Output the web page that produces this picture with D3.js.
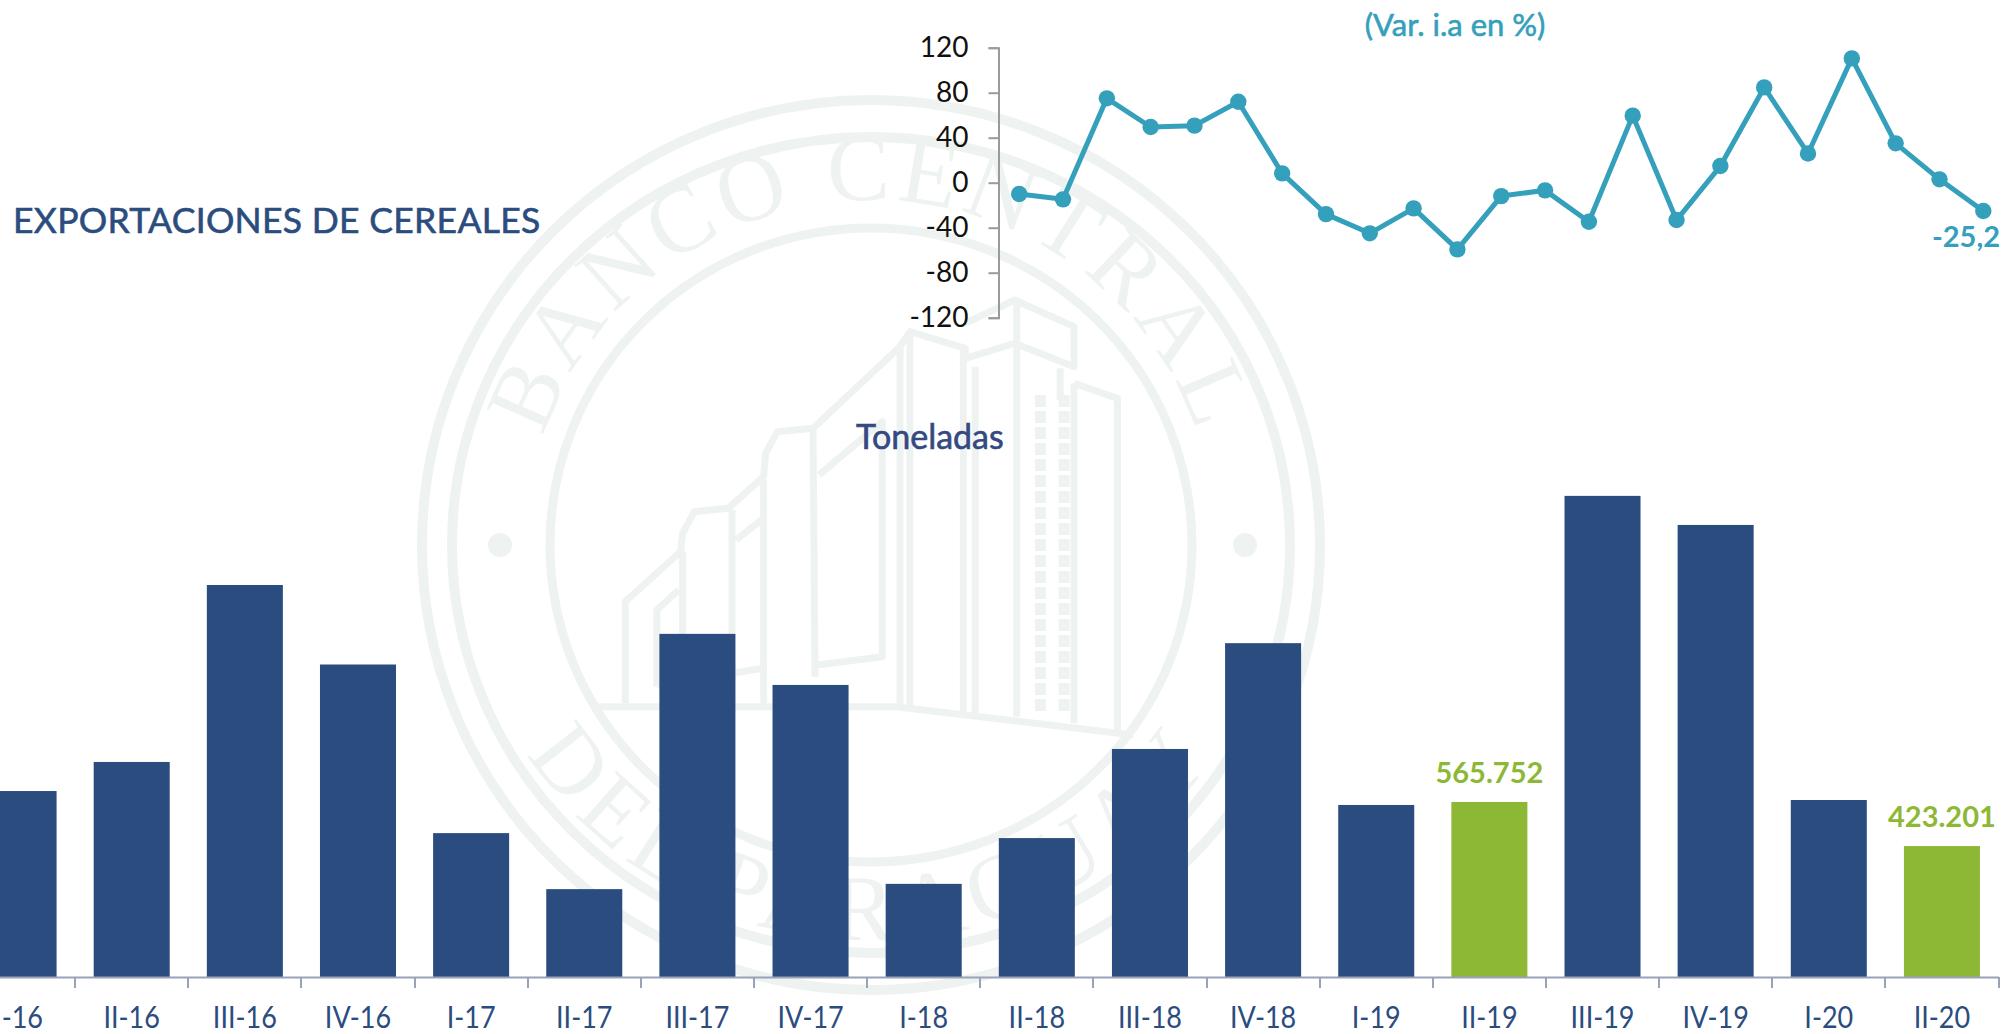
<!DOCTYPE html>
<html lang="es">
<head>
<meta charset="utf-8">
<title>Exportaciones de cereales</title>
<script src="https://cdn.jsdelivr.net/npm/d3@7/dist/d3.min.js"></script>
<style>
html,body{margin:0;padding:0;background:#fff;overflow:hidden}
svg{display:block}
text{font-family:Lato,"Open Sans",sans-serif}
</style>
</head>
<body>
<svg id="chart" width="2004" height="1034" viewBox="0 0 2004 1034"></svg>
<script>
// ---- data ----
const quarters = ["I-16","II-16","III-16","IV-16","I-17","II-17","III-17","IV-17","I-18","II-18","III-18","IV-18","I-19","II-19","III-19","IV-19","I-20","II-20"];
const tons = [601000,695000,1267000,1010000,465000,284000,1109000,944000,301000,449000,737000,1079000,556000,565752,1555000,1461000,572000,423201];
const highlighted = ["II-19","II-20"];
const variation = [-10,-14.8,75,49.5,50.7,72,8.3,-27.9,-45,-22.8,-59.3,-11.9,-6.8,-34.7,59.6,-33.2,14.8,84.7,26,110.5,35,3,-25.2];
const varTicks = [120,80,40,0,-40,-80,-120];
const varLast = "-25,2";
const titleText = "EXPORTACIONES DE CEREALES";
const unitText = "Toneladas";
const varText = "(Var. i.a en %)";

// ---- colours ----
const NAVY="#2b4c7e", GREEN="#8db836", TEAL="#35a0bb", AXIS="#98a2b8", GREY="#9a9a9a", PALE="#eef3f1";

const svg = d3.select("#chart");

// ---- background seal (decoration) ----
const seal = svg.append("g").attr("class","seal");
const cx=871, cy=545;
[[449,445,10],[419,408,10],[321,317,9]].forEach(([rx,ry,w])=>{
  seal.append("ellipse").attr("cx",cx).attr("cy",cy).attr("rx",rx).attr("ry",ry)
    .attr("fill","none").attr("stroke",PALE).attr("stroke-width",w);
});
[500,1245].forEach(x=>seal.append("circle").attr("cx",x).attr("cy",545).attr("r",12).attr("fill",PALE));
const defs = svg.append("defs");
defs.append("path").attr("id","arcTop").attr("d",`M${cx-345},${cy} A345,345 0 0 1 ${cx+345},${cy}`);
defs.append("path").attr("id","arcBot").attr("d",`M${cx-405},${cy} A405,395 0 0 0 ${cx+405},${cy}`);
const sealText=(id,t,ls)=>seal.append("text").attr("font-size",94).attr("fill",PALE)
   .style("font-family","'Liberation Serif',serif").attr("letter-spacing",ls).attr("text-anchor","middle")
   .append("textPath").attr("href","#"+id).attr("startOffset","50%").text(t);
sealText("arcTop","BANCO CENTRAL",6);
sealText("arcBot","DEL PARAGUAY",9);
// building outline, sketched in a local 1568x1380 frame
const bx=d3.scaleLinear().domain([0,1568]).range([560,1180]);
const by=d3.scaleLinear().domain([0,1380]).range([280,740]);
const strokes=[
 [[165,1270],[165,965],[305,815],[310,760],[340,695],[425,685],[515,590],[520,520],[550,455],[640,445],[860,200],[885,155],[1025,205],[1025,235],[1150,190],[1300,260],[1300,140],[1150,60],[1025,130]],
 [[245,1220],[245,990],[300,930]],[[310,815],[310,1275]],[[435,690],[435,1280]],[[445,780],[515,715]],[[515,600],[515,1280]],
 [[245,1215],[515,1165]],[[640,445],[645,1190]],[[655,585],[815,425],[815,1130],[650,1155]],
 [[860,200],[860,1285]],[[885,155],[885,1285]],[[1020,205],[1020,1300]],[[1050,260],[1050,1300]],[[1155,60],[1155,1310]],
 [[1265,265],[1265,360]],[[1300,310],[1410,355],[1410,1350]],[[1300,310],[1300,1330]],
 [[80,1280],[850,1280],[1450,1365]]
];
const sketch=d3.line().x(p=>bx(p[0])).y(p=>by(p[1]));
strokes.forEach(s=>seal.append("path").attr("d",sketch(s)).attr("fill","none").attr("stroke",PALE).attr("stroke-width",7).attr("stroke-linejoin","round"));
[1215,1275].forEach(X=>seal.append("path").attr("d",sketch([[X,345],[X,1300]])).attr("fill","none").attr("stroke",PALE).attr("stroke-width",11).attr("stroke-dasharray","12 4"));

// ---- bar chart ----
const x = d3.scaleBand().domain(quarters).range([-38,1998.5]).paddingInner(0.328).paddingOuter(0.164);
const y = d3.scaleLinear().domain([0,1600000]).range([977,977-1600000/3232]);

svg.append("g").selectAll("rect").data(quarters).join("rect")
  .attr("x",d=>x(d)).attr("width",x.bandwidth())
  .attr("y",(d,i)=>y(tons[i])).attr("height",(d,i)=>y(0)-y(tons[i]))
  .attr("fill",d=>highlighted.includes(d)?GREEN:NAVY);

const xAxis = svg.append("g").attr("transform",`translate(0,${y(0)})`)
  .call(d3.axisBottom(x).tickSize(0).tickPadding(30));
xAxis.select(".domain").attr("stroke",AXIS).attr("stroke-width",2);
xAxis.selectAll("text").attr("font-size",30).attr("fill",NAVY).attr("dy",0).attr("y",51)
  .attr("transform","scale(0.9,1)");
const edgeOffset = x.step()*x.paddingOuter();
xAxis.selectAll(".edge").data(quarters).join("line").attr("class","edge")
  .attr("x1",d=>Math.round(x(d)+x.bandwidth()+edgeOffset)).attr("x2",d=>Math.round(x(d)+x.bandwidth()+edgeOffset))
  .attr("y1",0).attr("y2",11).attr("stroke",AXIS).attr("stroke-width",2);

svg.append("g").selectAll("text").data(highlighted).join("text")
  .attr("x",d=>x(d)+x.bandwidth()/2)
  .attr("y",d=>y(tons[quarters.indexOf(d)])-19)
  .attr("text-anchor","middle").attr("font-size",29).attr("font-weight",700).attr("fill",GREEN)
  .text(d=>d3.format(",")(tons[quarters.indexOf(d)]).replace(/,/g,"."));

// ---- line chart ----
const lx = d3.scalePoint().domain(d3.range(variation.length)).range([1019.2,1983.3]);
const ly = d3.scaleLinear().domain([-120,120]).range([317.7,47.7]);

const yAxis = svg.append("g").attr("transform","translate(998.5,0)")
  .call(d3.axisLeft(ly).tickValues(varTicks).tickFormat(String).tickSize(10).tickPadding(20));
yAxis.selectAll("path,line").attr("stroke",GREY).attr("stroke-width",2);
yAxis.selectAll("text").attr("font-size",28).attr("fill","#111").attr("x",-30);

svg.append("path").datum(variation)
  .attr("d",d3.line().x((d,i)=>lx(i)).y(d=>ly(d)))
  .attr("fill","none").attr("stroke",TEAL).attr("stroke-width",5).attr("stroke-linejoin","round");
svg.append("g").selectAll("circle").data(variation).join("circle")
  .attr("cx",(d,i)=>lx(i)).attr("cy",d=>ly(d)).attr("r",8.2).attr("fill",TEAL);

svg.append("text").attr("x",2000).attr("y",247).attr("text-anchor","end")
  .attr("font-size",29).attr("font-weight",700).attr("fill",TEAL).text(varLast);

// ---- titles ----
const heavy = (sel,c)=>sel.attr("fill",c).attr("stroke",c).attr("stroke-width",0.6);
heavy(svg.append("text").attr("x",1455).attr("y",36).attr("text-anchor","middle")
  .attr("font-size",31).text(varText),TEAL);
heavy(svg.append("text").attr("x",13).attr("y",233).attr("font-size",35.5).attr("letter-spacing",0.3)
  .text(titleText),NAVY);
heavy(svg.append("text").attr("x",856).attr("y",449).attr("font-size",34)
  .text(unitText),"#34497f");
</script>
</body>
</html>
